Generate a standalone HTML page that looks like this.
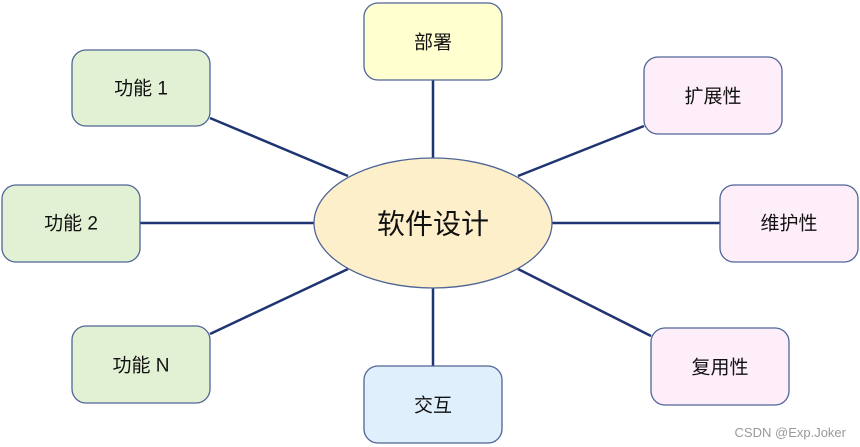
<!DOCTYPE html>
<html><head><meta charset="utf-8"><style>
html,body{margin:0;padding:0;background:#fff;}
svg{display:block;}
text{font-family:"Liberation Sans","Noto Sans CJK SC",sans-serif;fill:#111;}
</style></head><body>
<svg width="860" height="447" viewBox="0 0 860 447" xmlns="http://www.w3.org/2000/svg">
<g stroke="#1f3472" stroke-width="2.5" fill="none">
<line x1="210" y1="118" x2="348" y2="176"/>
<line x1="140" y1="223" x2="314" y2="223"/>
<line x1="210" y1="334" x2="348" y2="269"/>
<line x1="433" y1="80" x2="433" y2="158"/>
<line x1="433" y1="288" x2="433" y2="366"/>
<line x1="644" y1="126" x2="518" y2="176"/>
<line x1="552" y1="223" x2="720" y2="223"/>
<line x1="518" y1="269" x2="651" y2="336"/>
</g>
<g stroke="#4f6596" stroke-width="1.3">
<rect x="364" y="3" width="138" height="77" rx="14" fill="#ffffcf"/>
<rect x="72" y="50" width="138" height="76" rx="14" fill="#e2f1d3"/>
<rect x="2" y="185" width="138" height="77" rx="14" fill="#e2f1d3"/>
<rect x="72" y="326" width="138" height="77" rx="14" fill="#e2f1d3"/>
<rect x="364" y="366" width="138" height="77" rx="14" fill="#dfeffc"/>
<rect x="644" y="57" width="138" height="77" rx="14" fill="#fdeefa"/>
<rect x="720" y="185" width="138" height="77" rx="14" fill="#fdeefa"/>
<rect x="651" y="328" width="138" height="77" rx="14" fill="#fdeefa"/>
<ellipse cx="433" cy="223" rx="119" ry="65" fill="#fdefc9"/>
</g>
<g font-size="19" text-anchor="middle" dominant-baseline="central">
<text x="433" y="43">部署</text>
<text x="141" y="89">功能 1</text>
<text x="71" y="224">功能 2</text>
<text x="141" y="366">功能 N</text>
<text x="433" y="406">交互</text>
<text x="713" y="97">扩展性</text>
<text x="789" y="224">维护性</text>
<text x="720" y="368">复用性</text>
<text x="433" y="224" font-size="28">软件设计</text>
</g>
<text x="846" y="437" font-size="13" text-anchor="end" style="fill:#999">CSDN @Exp.Joker</text>
</svg>
</body></html>
